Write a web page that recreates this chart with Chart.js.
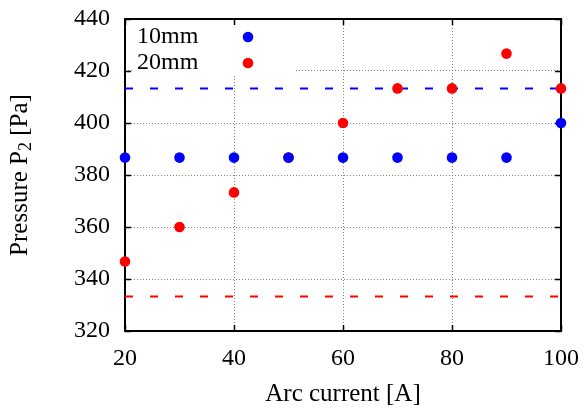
<!DOCTYPE html>
<html>
<head>
<meta charset="utf-8">
<script src="https://cdn.jsdelivr.net/npm/chart.js"></script>
<style>
    html, body { margin: 0; padding: 0; background: #fff; }
    #grafica { display: block; }
</style>
</head>
<body>
<canvas id="grafica" width="584" height="410"></canvas>
<script>
//DATOS DE LA GRAFICA
var corrientes = [20, 30, 40, 50, 60, 70, 80, 90, 100];
var presion10mm = [386.7, 386.7, 386.7, 386.7, 386.7, 386.7, 386.7, 386.7, 400];
var presion20mm = [346.7, 360, 373.3, 386.7, 400, 413.3, 413.3, 426.7, 413.3];
var limite10mm = [413.3, 413.3];
var limite20mm = [333.3, 333.3];
var limiteX = [20, 100];
var series = ["10mm", "20mm"];
var ticksX = [20, 40, 60, 80, 100];
var ticksY = [320, 340, 360, 380, 400, 420, 440];

var AZUL = "rgb(0,0,255)";
var ROJO = "rgb(255,0,0)";
var FUENTE = "'Liberation Serif', 'DejaVu Serif', serif";

//CONVIERTE DOS ARREGLOS EN PUNTOS {x, y}
function puntos(xs, ys) {
    var res = [];
    for (var i = 0; i < xs.length; i++) {
        res.push({ x: xs[i], y: ys[i] });
    }
    return res;
}

//QUITA EL RELLENO AUTOMATICO DE LAS ESCALAS
function sinRelleno(scale) {
    scale.paddingTop = 0;
    scale.paddingBottom = 0;
    scale.paddingLeft = 0;
    scale.paddingRight = 0;
}

//PLUGIN: BORDE, TICKS HACIA DENTRO, LEYENDA Y TITULO DEL EJE Y
var marcoPlugin = {
    id: "marco",
    beforeDatasetsDraw: function (chart) {
        var ctx = chart.ctx;
        var a = chart.chartArea;
        var sx = chart.scales.x;
        var sy = chart.scales.y;
        var i;

        //CUADRO BLANCO DE LA LEYENDA (TAPA LA REJILLA)
        ctx.save();
        ctx.fillStyle = "#fff";
        ctx.fillRect(133, a.top + 1, 163, 56);

        //TICKS HACIA DENTRO EN LOS CUATRO LADOS
        ctx.strokeStyle = "#000";
        ctx.lineWidth = 1.5;
        ctx.beginPath();
        for (i = 0; i < ticksX.length; i++) {
            var px = Math.round(sx.getPixelForValue(ticksX[i])) + 0.5;
            ctx.moveTo(px, a.bottom); ctx.lineTo(px, a.bottom - 6);
            ctx.moveTo(px, a.top); ctx.lineTo(px, a.top + 6);
        }
        for (i = 0; i < ticksY.length; i++) {
            var py = Math.round(sy.getPixelForValue(ticksY[i])) + 0.5;
            ctx.moveTo(a.left, py); ctx.lineTo(a.left + 6, py);
            ctx.moveTo(a.right, py); ctx.lineTo(a.right - 6, py);
        }
        ctx.stroke();

        //BORDE
        ctx.lineWidth = 2;
        ctx.strokeRect(a.left, a.top, a.right - a.left, a.bottom - a.top);

        //TEXTO Y PUNTOS DE LA LEYENDA
        var colores = [AZUL, ROJO];
        ctx.font = "24px " + FUENTE;
        ctx.textAlign = "left";
        ctx.textBaseline = "middle";
        for (i = 0; i < series.length; i++) {
            var ly = a.top + 18 + i * 26;
            ctx.fillStyle = "#000";
            ctx.fillText(series[i], 137, ly);
            ctx.fillStyle = colores[i];
            ctx.beginPath();
            ctx.arc(248, ly, 5.3, 0, Math.PI * 2);
            ctx.fill();
        }

        //TITULO DEL EJE Y CON SUBINDICE
        ctx.translate(20, (a.top + a.bottom) / 2);
        ctx.rotate(-Math.PI / 2);
        var t1 = "Pressure P", t2 = "2", t3 = " [Pa]";
        ctx.font = "25px " + FUENTE;
        var w1 = ctx.measureText(t1).width, w3 = ctx.measureText(t3).width;
        ctx.font = "18px " + FUENTE;
        var w2 = ctx.measureText(t2).width;
        var x0 = -(w1 + w2 + w3) / 2;
        ctx.fillStyle = "#000";
        ctx.font = "25px " + FUENTE;
        ctx.fillText(t1, x0, 0);
        ctx.font = "18px " + FUENTE;
        ctx.fillText(t2, x0 + w1, 6);
        ctx.font = "25px " + FUENTE;
        ctx.fillText(t3, x0 + w1 + w2, 0);
        ctx.restore();
    }
};

var ctx = document.getElementById("grafica").getContext("2d");
new Chart(ctx, {
    type: "scatter",
    data: {
        datasets: [{
            label: series[0],
            data: puntos(corrientes, presion10mm),
            backgroundColor: AZUL,
            borderColor: AZUL,
            pointRadius: 5.3,
            pointBorderWidth: 0,
            order: 1
        }, {
            label: series[1],
            data: puntos(corrientes, presion20mm),
            backgroundColor: ROJO,
            borderColor: ROJO,
            pointRadius: 5.3,
            pointBorderWidth: 0,
            order: 1
        }, {
            type: "line",
            label: "lim10",
            data: puntos(limiteX, limite10mm),
            borderColor: AZUL,
            borderWidth: 2,
            borderDash: [8, 17],
            pointRadius: 0,
            fill: false,
            order: 2
        }, {
            type: "line",
            label: "lim20",
            data: puntos(limiteX, limite20mm),
            borderColor: ROJO,
            borderWidth: 2,
            borderDash: [8, 17],
            pointRadius: 0,
            fill: false,
            order: 2
        }]
    },
    options: {
        responsive: false,
        animation: false,
        devicePixelRatio: 1,
        clip: false,
        layout: { padding: { left: 0, right: 23, top: 19, bottom: 0 } },
        plugins: {
            legend: { display: false },
            tooltip: { enabled: false }
        },
        scales: {
            x: {
                type: "linear",
                min: 20,
                max: 100,
                afterFit: function (scale) { scale.height = 79; sinRelleno(scale); },
                afterBuildTicks: function (scale) {
                    scale.ticks = ticksX.map(function (v) { return { value: v }; });
                },
                ticks: {
                    color: "#000",
                    font: { family: FUENTE, size: 24 },
                    padding: 13,
                    maxRotation: 0
                },
                grid: { color: "#808080", lineWidth: 1, drawTicks: false },
                border: { display: false, dash: [1, 2] },
                title: {
                    display: true,
                    text: "Arc current [A]",
                    color: "#000",
                    font: { family: FUENTE, size: 25 },
                    padding: { top: 0, bottom: 1 }
                }
            },
            y: {
                type: "linear",
                min: 320,
                max: 440,
                afterFit: function (scale) { scale.width = 125; sinRelleno(scale); },
                afterBuildTicks: function (scale) {
                    scale.ticks = ticksY.map(function (v) { return { value: v }; });
                },
                ticks: {
                    color: "#000",
                    font: { family: FUENTE, size: 24 },
                    padding: 15
                },
                grid: { color: "#808080", lineWidth: 1, drawTicks: false },
                border: { display: false, dash: [1, 2] }
            }
        }
    },
    plugins: [marcoPlugin]
});
</script>
</body>
</html>
